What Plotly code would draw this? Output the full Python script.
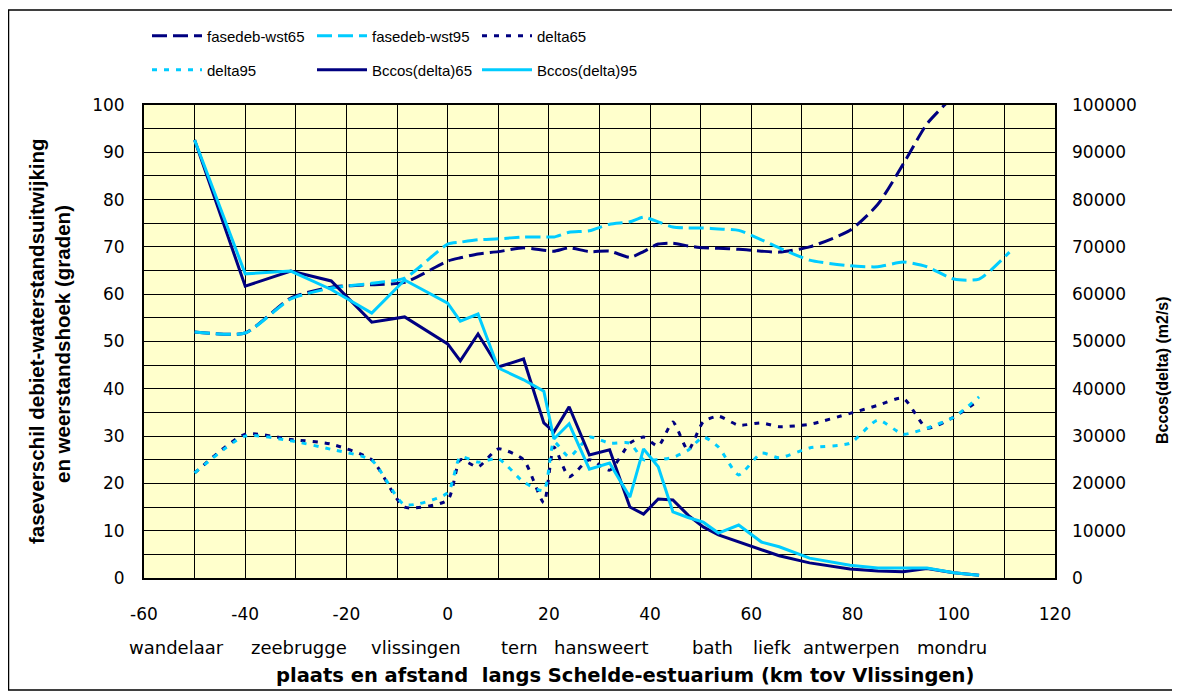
import plotly.graph_objects as go

# Stations (km tov Vlissingen)
x_km = [-50, -40, -31, -23, -15, -8.5, 0, 2.5, 6, 10, 15, 19, 21, 24, 28, 32, 36,
        38.7, 41.6, 44.5, 47.5, 50.5, 53.5, 57.5, 62, 65.5, 71.5, 79.5, 85, 90,
        94.7, 100, 105]
x_km_wst95 = x_km + [111]

fasedeb_wst65 = [52, 51.8, 59.2, 61.5, 62, 62.5, 67, 67.7, 68.5, 69, 69.8, 69.3, 69.1,
                 69.8, 69, 69.1, 67.8, 69, 70.6, 70.8, 70.2, 69.8, 69.7, 69.5, 69.1,
                 68.9, 70, 73.5, 79, 87.5, 96, 102, 108]
fasedeb_wst95 = [52, 51.8, 59, 61.3, 62.3, 63.4, 70.6, 71, 71.5, 71.7, 72.1, 72.1, 72.1,
                 73.1, 73.4, 74.8, 75.3, 76.3, 75.3, 74.2, 74, 74, 73.8, 73.5, 71.5,
                 69.8, 67.2, 66, 65.8, 66.8, 65.8, 63.2, 63.2, 68.9]
delta65 = [22.2, 30.4, 29.3, 28.3, 25, 15, 16.5, 25, 23.5, 27.3, 25, 15.9, 27.7, 21.4,
           25, 22.8, 28.5, 29.8, 27.9, 33, 27, 33, 34.2, 32.3, 32.8, 32, 32.5, 34.8,
           36.5, 38, 31.7, 34, 37.6]
delta95 = [22.2, 30, 29, 27.2, 24.9, 15.5, 18, 25.6, 24.5, 25.2, 20.3, 18.5, 28.8, 25.6,
           29.8, 28.5, 28.5, 25, 25, 25.5, 27, 29.8, 27.7, 21.8, 26.4, 25.4, 27.5, 28.5,
           33.4, 30.4, 31.7, 34, 38.3]
bccos65 = [92600, 61700, 64900, 62800, 54100, 55200, 49500, 45900, 51600, 44600, 46300,
           32800, 30900, 36200, 26000, 27100, 15000, 13500, 16700, 16500, 13300, 10800,
           9100, 7600, 5900, 4700, 3200, 1900, 1500, 1300, 2000, 1100, 600]
bccos95 = [92600, 64300, 64900, 61000, 56000, 63000, 58100, 54300, 55800, 44400, 41900,
           39500, 29400, 32600, 23000, 24300, 17100, 27300, 23500, 14000, 12800, 11800,
           9500, 11200, 7600, 6600, 4200, 2700, 2100, 2100, 2100, 1100, 600]

x_tick_vals = [-60, -40, -20, 0, 20, 40, 60, 80, 100, 120]
x_tick_text = ["-60", "-40", "-20", "0", "20", "40", "60", "80", "100", "120"]

station_names = ["wandelaar", "zeebrugge", "vlissingen", "tern", "hansweert",
                 "bath", "liefk", "antwerpen", "mondru"]
station_label_x = [-53.5, -29.3, -6.3, 14.2, 30.3, 52.3, 64, 79.8, 99.6]

NAVY = "#000080"
SKY = "#00CCFF"
ARIAL = "Liberation Sans, Arial, sans-serif"
WIDE = "DejaVu Sans, Verdana, sans-serif"
DASH = "15px,6px"
DOT = "5px,7px"

# plotgebied in pagina-pixels (body marge van 8px meegerekend)
PL, PR, PT, PB = 144, 1055, 105, 578
PW, PH = PR - PL, PB - PT


def px(x):
    return (x - PL) / PW


def py(y):
    return (PB - y) / PH


fig = go.Figure()

fig.add_trace(go.Scatter(x=x_km, y=fasedeb_wst65, name="fasedeb-wst65", mode="lines",
                         legend="legend",
                         line=dict(color=NAVY, width=3, dash=DASH, shape="spline", smoothing=0.6)))
fig.add_trace(go.Scatter(x=x_km_wst95, y=fasedeb_wst95, name="fasedeb-wst95", mode="lines",
                         legend="legend",
                         line=dict(color=SKY, width=3, dash=DASH, shape="spline", smoothing=0.6)))
fig.add_trace(go.Scatter(x=x_km, y=delta65, name="delta65", mode="lines",
                         legend="legend",
                         line=dict(color=NAVY, width=3, dash=DOT, shape="spline", smoothing=0.6)))
fig.add_trace(go.Scatter(x=x_km, y=delta95, name="delta95", mode="lines",
                         legend="legend2",
                         line=dict(color=SKY, width=3, dash=DOT, shape="spline", smoothing=0.6)))
fig.add_trace(go.Scatter(x=x_km, y=bccos65, name="Bccos(delta)65", mode="lines", yaxis="y2",
                         legend="legend2",
                         line=dict(color=NAVY, width=3)))
fig.add_trace(go.Scatter(x=x_km, y=bccos95, name="Bccos(delta)95", mode="lines", yaxis="y2",
                         legend="legend2",
                         line=dict(color=SKY, width=3)))

for name, xs in zip(station_names, station_label_x):
    fig.add_annotation(x=xs, xref="x", y=py(647), yref="paper", text=name, showarrow=False,
                       xanchor="center", yanchor="middle",
                       font=dict(size=18, color="black", family=WIDE))

fig.add_annotation(x=px(625), xref="paper", y=py(675), yref="paper",
                   xanchor="center", yanchor="middle",
                   text="<b>plaats en afstand  langs Schelde-estuarium (km tov Vlissingen)</b>",
                   showarrow=False, font=dict(size=19.5, color="black", family=WIDE))
fig.add_annotation(x=px(36), xref="paper", y=py(341), yref="paper", textangle=-90,
                   xanchor="center", yanchor="middle",
                   text="<b>faseverschil debiet-waterstandsuitwijking</b>",
                   showarrow=False, font=dict(size=20.5, color="black", family=ARIAL))
fig.add_annotation(x=px(62), xref="paper", y=py(344), yref="paper", textangle=-90,
                   xanchor="center", yanchor="middle",
                   text="<b>en weerstandshoek (graden)</b>",
                   showarrow=False, font=dict(size=20.5, color="black", family=ARIAL))
fig.add_annotation(x=px(1162), xref="paper", y=py(370), yref="paper", textangle=-90,
                   xanchor="center", yanchor="middle",
                   text="<b>Bccos(delta) (m2/s)</b>",
                   showarrow=False, font=dict(size=16, color="black", family=ARIAL))

# rand om de hele grafiek
fig.add_shape(type="rect", xref="paper", yref="paper",
              x0=px(8.5), x1=px(1177), y0=py(690), y1=py(10),
              line=dict(color="black", width=1.5), layer="below")

legend_common = dict(orientation="h", xanchor="left", yanchor="middle",
                     entrywidth=100, entrywidthmode="pixels", itemwidth=50,
                     font=dict(size=15, family=ARIAL), bgcolor="rgba(0,0,0,0)")

fig.update_layout(
    width=1180, height=692,
    margin=dict(l=PL - 8, r=1180 - (PR - 8), t=PT - 8, b=692 - (PB - 8)),
    paper_bgcolor="white",
    plot_bgcolor="#FFFFCC",
    font=dict(family=WIDE, size=17, color="black"),
    showlegend=True,
    legend=dict(x=px(147), y=py(36), **legend_common),
    legend2=dict(x=px(147), y=py(70), **legend_common),
    xaxis=dict(range=[-60, 120], tickvals=x_tick_vals, ticktext=x_tick_text,
               showgrid=True, gridcolor="black",
               gridwidth=1, zeroline=False, showline=True, linecolor="black", linewidth=2,
               mirror=True, ticks="", ticklabelstandoff=20, automargin=False,
               minor=dict(dtick=10, tick0=0, showgrid=True, gridcolor="black", gridwidth=1)),
    yaxis=dict(range=[0, 100], dtick=10, showgrid=True, gridcolor="black", gridwidth=1,
               zeroline=False, showline=True, linecolor="black", linewidth=2, mirror=True,
               ticks="", ticklabelstandoff=14, automargin=False,
               minor=dict(dtick=5, showgrid=True, gridcolor="black", gridwidth=1)),
    yaxis2=dict(range=[0, 100000], dtick=10000, overlaying="y", side="right",
                tickformat="d", showgrid=False, zeroline=False, ticks="",
                ticklabelstandoff=16, automargin=False),
)

fig.write_html("out.html")
